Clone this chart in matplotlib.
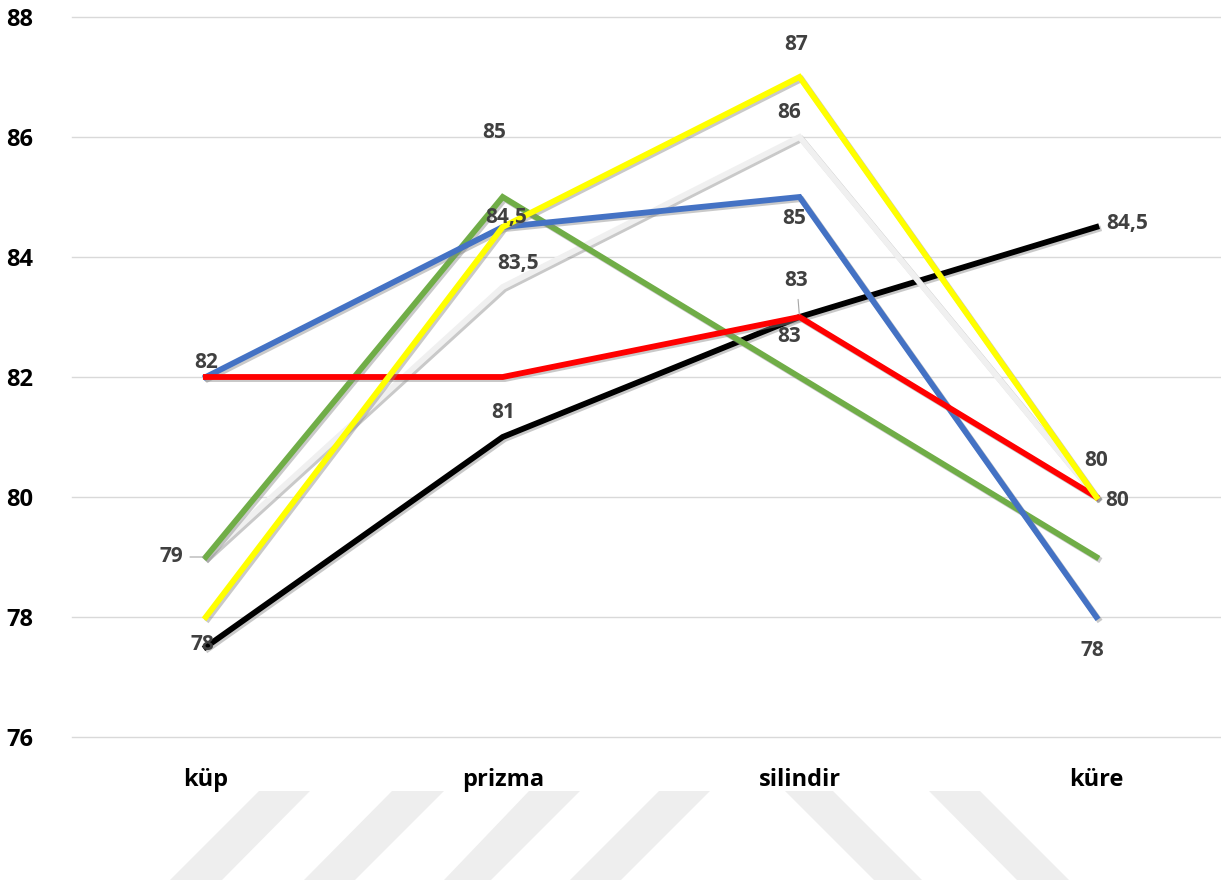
import matplotlib
matplotlib.use('Agg')
import matplotlib.pyplot as plt
import matplotlib.patheffects as pe
from matplotlib.patches import Polygon

plt.rcParams['font.family'] = ['Open Sans', 'DejaVu Sans']

categories = ['küp', 'prizma', 'silindir', 'küre']
blue = [82, 84.5, 85, 78]
red = [82, 82, 83, 80]
green = [79, 85, 82, 79]
yellow = [78, 84.5, 87, 80]
white = [79, 83.5, 86, 80]
black = [77.5, 81, 83, 84.5]
y_ticks = [76, 78, 80, 82, 84, 86, 88]

series = {
    'black': (black, '#000000'),
    'white': (white, '#f0f0f0'),
    'green': (green, '#70ad47'),
    'blue': (blue, '#4472c4'),
    'red': (red, '#ff0000'),
    'yellow': (yellow, '#ffff00'),
}

# (series, point index, dx px, dy px, leader line)
labels = [
    ('blue', 0, 0, 15, False),
    ('green', 0, -34, 0, True),
    ('yellow', 0, -3, -28, False),
    ('green', 1, -9, 64, False),
    ('blue', 1, 3, 10, False),
    ('white', 1, 15, 24, False),
    ('black', 1, 0, 24, False),
    ('yellow', 2, -3, 32, False),
    ('white', 2, -10, 24, False),
    ('blue', 2, -5, -22, False),
    ('red', 2, -3, 37, True),
    ('black', 2, -10, -20, False),
    ('black', 3, 31, 3, False),
    ('yellow', 3, 0, 36, False),
    ('red', 3, 21, -3, False),
    ('blue', 3, -4, -33, False),
]


def fmt(v):
    return ('%g' % v).replace('.', ',')


W, H = 1221, 889
fig = plt.figure(figsize=(W / 100, H / 100), dpi=100)
ax = fig.add_axes([72 / W, (H - 737) / H, 1 - 72 / W, (737 - 17) / H])

x = range(len(categories))
shadow = [pe.SimpleLineShadow(offset=(1.5, -1.5), shadow_color='#888888', alpha=0.45), pe.Normal()]
for name, (vals, col) in series.items():
    ax.plot(x, vals, color=col, lw=4.2, solid_joinstyle='miter', path_effects=shadow,
            zorder=3, clip_on=False)

for name, i, dx, dy, lead in labels:
    v = series[name][0][i]
    ax.annotate(fmt(v), (i, v), xytext=(dx, dy), textcoords='offset pixels',
                ha='center', va='center', fontsize=15, fontweight='bold',
                color='#404040', zorder=5)
    if lead:
        ax.annotate('', (i, v), xytext=(dx * 0.55, dy * 0.55), textcoords='offset pixels',
                    arrowprops=dict(arrowstyle='-', color='#a6a6a6', lw=0.8), zorder=4)

ax.set_xlim(-0.451, 3.42)
ax.set_ylim(76, 88)
ax.set_yticks(y_ticks)
ax.set_xticks(list(x))
ax.set_xticklabels(categories, fontsize=17, fontweight='bold')
for t in ax.get_yticklabels():
    t.set_fontsize(17)
    t.set_fontweight('bold')
ax.tick_params(length=0)
ax.tick_params(axis='y', pad=28)
ax.tick_params(axis='x', pad=22)
ax.grid(axis='y', color='#d9d9d9', lw=1)
for gl in ax.get_ygridlines():
    gl.set_clip_on(False)
ax.set_axisbelow(True)
for s in ax.spines.values():
    s.set_visible(False)

# watermark stripes at the bottom
stripes = [
    [(259, 791), (310, 791), (222, 880), (170, 880)],
    [(392, 791), (444, 791), (355, 880), (304, 880)],
    [(529, 791), (580, 791), (491, 880), (444, 880)],
    [(659, 791), (710, 791), (621, 880), (570, 880)],
    [(785, 791), (833, 791), (922, 880), (874, 880)],
    [(929, 791), (980, 791), (1069, 880), (1017, 880)],
]
for st in stripes:
    pts = [(px / W, 1 - py / H) for px, py in st]
    fig.patches.append(Polygon(pts, closed=True, transform=fig.transFigure,
                               facecolor='#eeeeee', edgecolor='none', zorder=0))

fig.savefig('out.png', dpi=100)
